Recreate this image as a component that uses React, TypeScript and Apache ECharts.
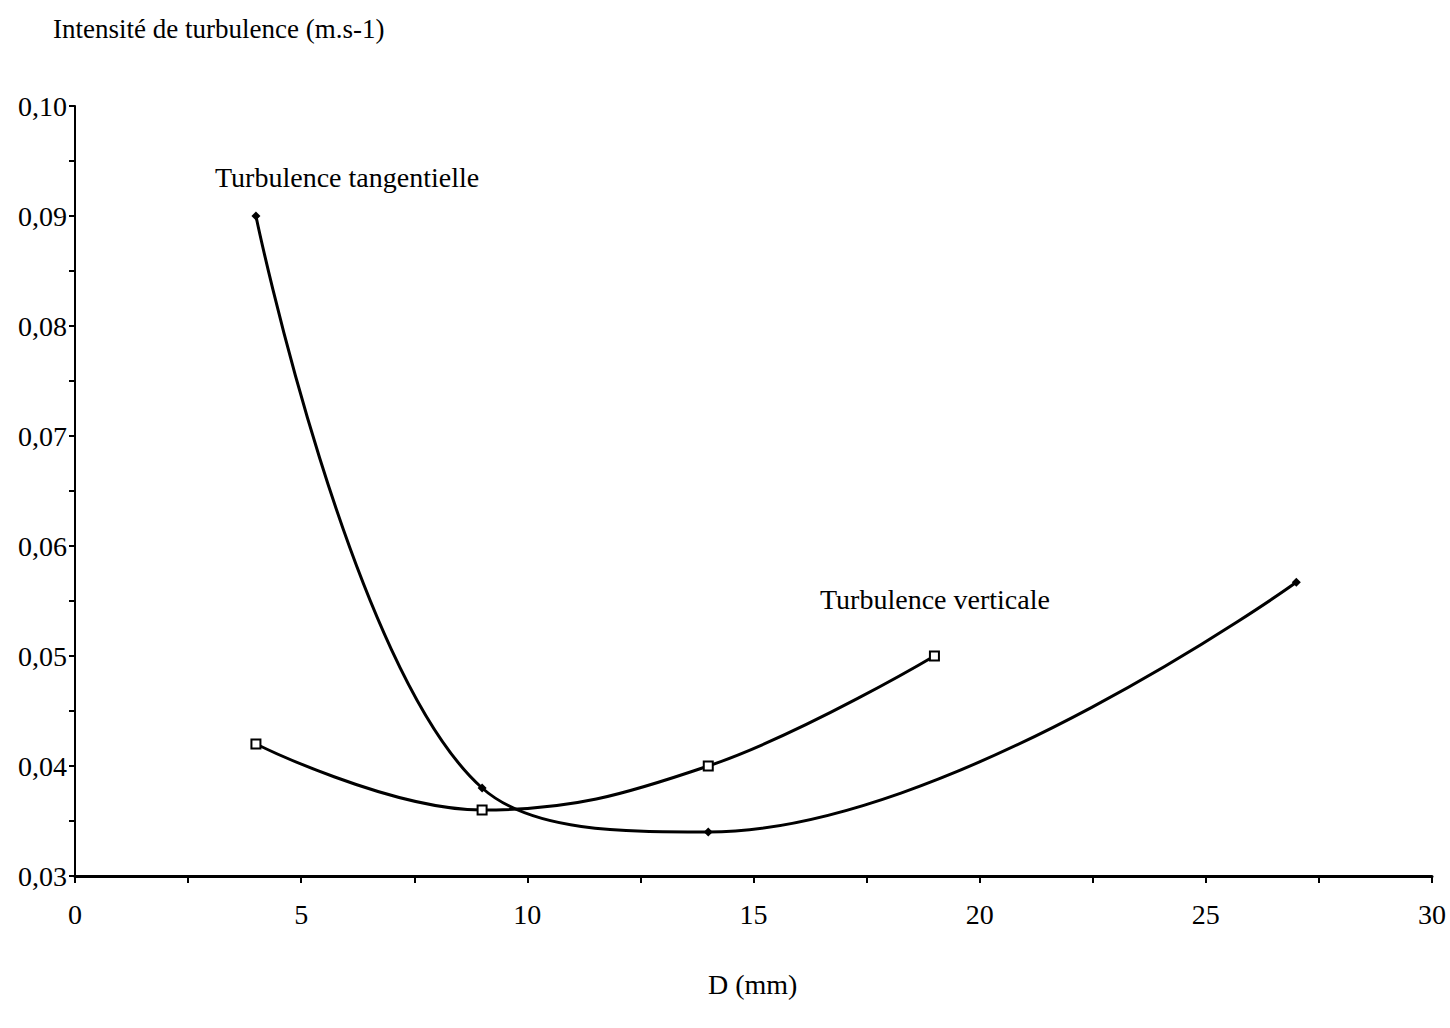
import React, { useEffect, useRef } from "react";
import * as echarts from "echarts";

const tangX = [4, 9, 14, 27];
const tangY = [0.09, 0.038, 0.034, 0.0567];
const vertX = [4, 9, 14, 19];
const vertY = [0.042, 0.036, 0.04, 0.05];
const yTitle = "Intensité de turbulence (m.s-1)";
const xTitle = "D (mm)";
const tangLabel = "Turbulence tangentielle";
const vertLabel = "Turbulence verticale";

const FONT = "'Liberation Serif', 'Times New Roman', serif";

export default function App() {
  const ref = useRef<HTMLDivElement>(null);
  useEffect(() => {
    const chart = echarts.init(ref.current!, null, { renderer: "svg" });
    chart.setOption({
      animation: false,
      backgroundColor: "#ffffff",
      textStyle: { fontFamily: FONT, color: "#000" },
      grid: { left: 75, right: 18, top: 106, bottom: 152 },
      xAxis: {
        type: "value",
        min: 0,
        max: 30,
        interval: 5,
        axisLine: { lineStyle: { color: "#000", width: 3 } },
        axisTick: { show: true, length: 7, lineStyle: { color: "#000", width: 2 } },
        minorTick: { show: true, splitNumber: 2, length: 7, lineStyle: { color: "#000", width: 2 } },
        splitLine: { show: false },
        axisLabel: { fontSize: 28, color: "#000", fontFamily: FONT, margin: 24 },
      },
      yAxis: {
        type: "value",
        min: 0.03,
        max: 0.1,
        interval: 0.01,
        axisLine: { lineStyle: { color: "#000", width: 2 } },
        axisTick: { show: true, inside: false, length: 6, lineStyle: { color: "#000", width: 2 } },
        minorTick: { show: true, splitNumber: 2, length: 6, lineStyle: { color: "#000", width: 2 } },
        splitLine: { show: false },
        axisLabel: {
          fontSize: 28,
          color: "#000",
          fontFamily: FONT,
          margin: 8,
          formatter: (v: number) => v.toFixed(2).replace(".", ","),
        },
      },
      graphic: [
        { type: "text", left: 53, top: 15, style: { text: yTitle, font: `27px ${FONT}`, fill: "#000" } },
        { type: "text", left: 708, top: 970, style: { text: xTitle, font: `28px ${FONT}`, fill: "#000" } },
        { type: "text", left: 215, top: 163, style: { text: tangLabel, font: `28px ${FONT}`, fill: "#000" } },
        { type: "text", left: 820, top: 585, style: { text: vertLabel, font: `28px ${FONT}`, fill: "#000" } },
      ],
      series: [
        {
          type: "line",
          data: tangX.map((x, i) => [x, tangY[i]]),
          smooth: 0.4,
          symbol: "diamond",
          symbolSize: 9,
          itemStyle: { color: "#000" },
          lineStyle: { color: "#000", width: 3 },
        },
        {
          type: "line",
          data: vertX.map((x, i) => [x, vertY[i]]),
          smooth: 0.4,
          symbol: "rect",
          symbolSize: 9,
          itemStyle: { color: "#fff", borderColor: "#000", borderWidth: 2 },
          lineStyle: { color: "#000", width: 3 },
        },
      ],
    });
    return () => chart.dispose();
  }, []);
  return <div ref={ref} style={{ width: 1450, height: 1028, position: "absolute", left: 0, top: 0 }} />;
}
